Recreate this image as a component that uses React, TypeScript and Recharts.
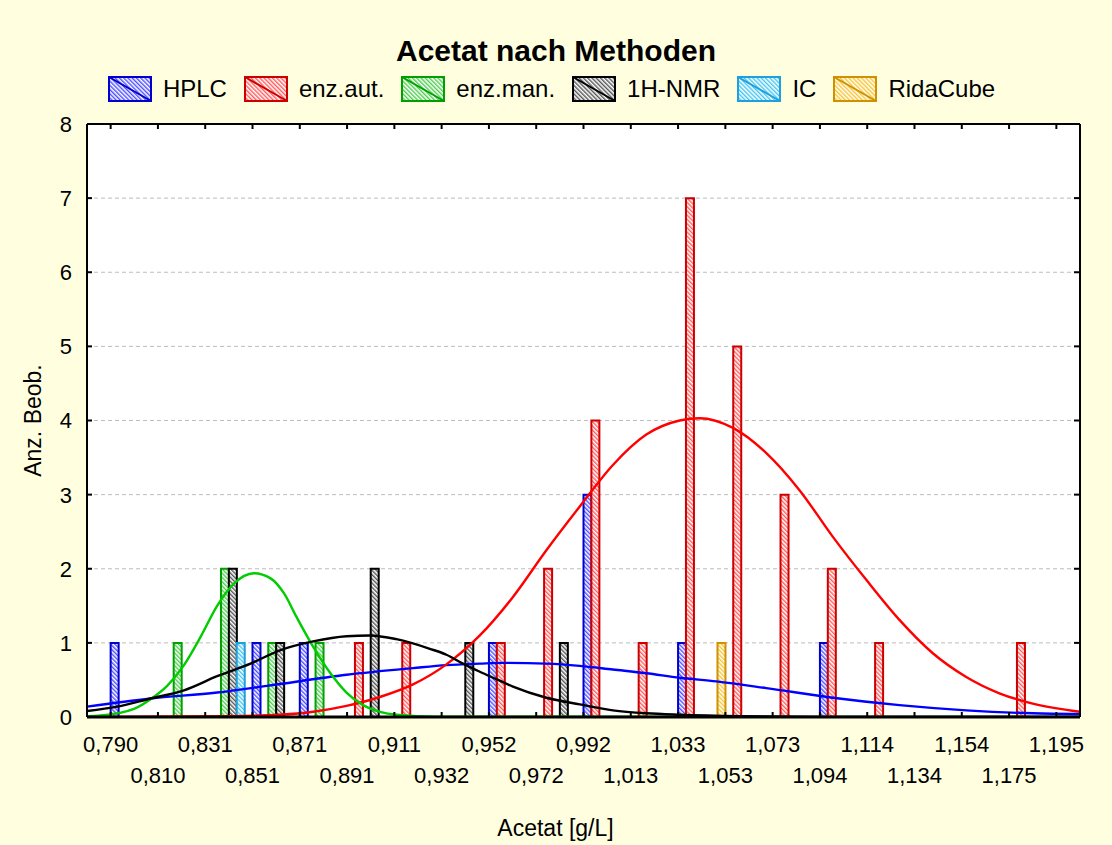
import React from 'react';
import { ComposedChart, Bar, Line, XAxis, YAxis, CartesianGrid, Label } from 'recharts';

// lower edges of the histogram classes (g/L); every one gets a tick
const binEdges = [
  0.79, 0.81025, 0.8305, 0.85075, 0.871, 0.89125, 0.9115, 0.93175, 0.952, 0.97225, 0.9925,
  1.01275, 1.033, 1.05325, 1.0735, 1.09375, 1.114, 1.13425, 1.1545, 1.17475, 1.195,
];
const tickLabels = [
  '0,790', '0,810', '0,831', '0,851', '0,871', '0,891', '0,911', '0,932', '0,952', '0,972', '0,992',
  '1,013', '1,033', '1,053', '1,073', '1,094', '1,114', '1,134', '1,154', '1,175', '1,195',
];
const yTicks = [0, 1, 2, 3, 4, 5, 6, 7, 8];

// observations per class (classes 0..19)
const hplc = [1, 0, 0, 1, 1, 0, 0, 0, 1, 0, 3, 0, 1, 0, 0, 1, 0, 0, 0, 0];
const enzAut = [0, 0, 0, 0, 0, 1, 1, 0, 1, 2, 4, 1, 7, 5, 3, 2, 1, 0, 0, 1];
const enzMan = [0, 1, 2, 1, 1, 0, 0, 0, 0, 0, 0, 0, 0, 0, 0, 0, 0, 0, 0, 0];
const nmr = [0, 0, 2, 1, 0, 2, 0, 1, 0, 1, 0, 0, 0, 0, 0, 0, 0, 0, 0, 0];
const ic = [0, 0, 1, 0, 0, 0, 0, 0, 0, 0, 0, 0, 0, 0, 0, 0, 0, 0, 0, 0];
const ridaCube = [0, 0, 0, 0, 0, 0, 0, 0, 0, 0, 0, 0, 1, 0, 0, 0, 0, 0, 0, 0];

// fitted normal curves
const curveHplc = [
  { v: 0.7799, n: 0.14 }, { v: 0.8071, n: 0.25 }, { v: 0.8356, n: 0.33 }, { v: 0.857, n: 0.42 },
  { v: 0.891, n: 0.57 }, { v: 0.9195, n: 0.66 }, { v: 0.9338, n: 0.7 }, { v: 0.9481, n: 0.72 },
  { v: 0.958, n: 0.73 }, { v: 0.9766, n: 0.72 }, { v: 0.9909, n: 0.69 }, { v: 1.0051, n: 0.64 },
  { v: 1.0194, n: 0.59 }, { v: 1.0337, n: 0.53 }, { v: 1.0494, n: 0.48 }, { v: 1.0708, n: 0.39 },
  { v: 1.0993, n: 0.26 }, { v: 1.1278, n: 0.16 }, { v: 1.1564, n: 0.09 }, { v: 1.1849, n: 0.05 },
  { v: 1.2051, n: 0.04 },
];
const curveEnzAut = [
  { v: 0.7799, n: 0 }, { v: 0.84, n: 0.01 }, { v: 0.8625, n: 0.03 }, { v: 0.8767, n: 0.07 },
  { v: 0.891, n: 0.15 }, { v: 0.9053, n: 0.27 }, { v: 0.9195, n: 0.44 }, { v: 0.9338, n: 0.71 },
  { v: 0.9481, n: 1.1 }, { v: 0.9623, n: 1.62 }, { v: 0.9766, n: 2.25 }, { v: 0.9909, n: 2.84 },
  { v: 1.0051, n: 3.4 }, { v: 1.0194, n: 3.81 }, { v: 1.0337, n: 4.0 }, { v: 1.0422, n: 4.03 },
  { v: 1.0565, n: 3.9 }, { v: 1.0708, n: 3.56 }, { v: 1.085, n: 3.06 }, { v: 1.0993, n: 2.43 },
  { v: 1.1136, n: 1.85 }, { v: 1.1278, n: 1.31 }, { v: 1.1421, n: 0.86 }, { v: 1.1564, n: 0.54 },
  { v: 1.1706, n: 0.32 }, { v: 1.1849, n: 0.18 }, { v: 1.2051, n: 0.07 },
];
const curveEnzMan = [
  { v: 0.7799, n: 0.01 }, { v: 0.7857, n: 0.02 }, { v: 0.8, n: 0.11 }, { v: 0.8071, n: 0.24 },
  { v: 0.8142, n: 0.42 }, { v: 0.8214, n: 0.7 }, { v: 0.8285, n: 1.08 }, { v: 0.8356, n: 1.5 },
  { v: 0.8428, n: 1.8 }, { v: 0.8513, n: 1.94 }, { v: 0.8585, n: 1.87 }, { v: 0.8642, n: 1.67 },
  { v: 0.8696, n: 1.35 }, { v: 0.8767, n: 0.95 }, { v: 0.8839, n: 0.6 }, { v: 0.891, n: 0.33 },
  { v: 0.8981, n: 0.16 }, { v: 0.9053, n: 0.07 }, { v: 0.9124, n: 0.03 }, { v: 0.93, n: 0.005 },
  { v: 1.2051, n: 0 },
];
const curveNmr = [
  { v: 0.7799, n: 0.08 }, { v: 0.7928, n: 0.14 }, { v: 0.8071, n: 0.25 }, { v: 0.8214, n: 0.36 },
  { v: 0.8356, n: 0.55 }, { v: 0.8499, n: 0.72 }, { v: 0.8625, n: 0.9 }, { v: 0.8767, n: 1.02 },
  { v: 0.891, n: 1.09 }, { v: 0.901, n: 1.1 }, { v: 0.9124, n: 1.05 }, { v: 0.9267, n: 0.92 },
  { v: 0.9338, n: 0.84 }, { v: 0.9409, n: 0.72 }, { v: 0.9481, n: 0.61 }, { v: 0.9552, n: 0.51 },
  { v: 0.9623, n: 0.41 }, { v: 0.9766, n: 0.26 }, { v: 0.9909, n: 0.17 }, { v: 1.0051, n: 0.09 },
  { v: 1.0194, n: 0.05 }, { v: 1.0337, n: 0.03 }, { v: 1.06, n: 0.01 }, { v: 1.1, n: 0 },
  { v: 1.2051, n: 0 },
];

const series = [
  { key: 'hplc', name: 'HPLC', counts: hplc, curve: curveHplc, edge: '#0000cc', hatch: '#3a3aff', line: '#0000ff' },
  { key: 'enzAut', name: 'enz.aut.', counts: enzAut, curve: curveEnzAut, edge: '#cc0000', hatch: '#ff4a4a', line: '#ff0000' },
  { key: 'enzMan', name: 'enz.man.', counts: enzMan, curve: curveEnzMan, edge: '#00a000', hatch: '#3cc83c', line: '#00cc00' },
  { key: 'nmr', name: '1H-NMR', counts: nmr, curve: curveNmr, edge: '#000000', hatch: '#444444', line: '#000000' },
  { key: 'ic', name: 'IC', counts: ic, curve: null, edge: '#1ea0dc', hatch: '#30c0f0', line: '' },
  { key: 'ridaCube', name: 'RidaCube', counts: ridaCube, curve: null, edge: '#d09000', hatch: '#f5c020', line: '' },
];

// each class is split in one slot per method; a few empty slots pad both ends
const leadSlots = 3;
const tailSlots = 3;
const classWidth = binEdges[1] - binEdges[0];
const slotWidth = classWidth / series.length;
const valueDomain = [
  binEdges[0] - leadSlots * slotWidth,
  binEdges[binEdges.length - 1] + tailSlots * slotWidth,
];

const slotData = (() => {
  const rows: Record<string, number>[] = [];
  const used = hplc.length * series.length;
  for (let i = 0; i < leadSlots + used + tailSlots; i++) {
    const row: Record<string, number> = { slot: i };
    series.forEach((s) => { row[s.key] = 0; });
    const j = i - leadSlots;
    if (j >= 0 && j < used) {
      const s = series[j % series.length];
      row[s.key] = s.counts[Math.floor(j / series.length)];
    }
    rows.push(row);
  }
  return rows;
})();

// the top frame axis needs something plotted on it, so the class edges go there unseen
const edgeMarks = binEdges.map((v) => ({ v, n: 0 }));

const font = '"Liberation Sans", Arial, Helvetica, sans-serif';

const BottomTick = (props: any) => {
  const { x, y, index } = props;
  return (
    <g>
      <line x1={x} x2={x} y1={y} y2={y - 5} stroke="#000" strokeWidth={2} />
      <text x={x} y={y + (index % 2 ? 66 : 35)} textAnchor="middle" fontSize={22} fill="#000">
        {tickLabels[index]}
      </text>
    </g>
  );
};

const TopTick = (props: any) => (
  <line x1={props.x} x2={props.x} y1={props.y} y2={props.y + 5} stroke="#000" strokeWidth={2} />
);

const LeftTick = (props: any) => {
  const { x, y, payload } = props;
  return (
    <g>
      <line x1={x} x2={x + 5} y1={y} y2={y} stroke="#000" strokeWidth={2} />
      <text x={x - 15} y={y} dy="0.36em" textAnchor="end" fontSize={22} fill="#000">
        {payload.value}
      </text>
    </g>
  );
};

const RightTick = (props: any) => (
  <line x1={props.x} x2={props.x - 6} y1={props.y} y2={props.y} stroke="#000" strokeWidth={2} />
);

const Patterns = () => (
  <svg width={0} height={0} style={{ position: 'absolute' }}>
    <defs>
      {series.map((s) => (
        <pattern
          key={s.key}
          id={`hatch-${s.key}`}
          width={3}
          height={3}
          patternUnits="userSpaceOnUse"
          patternTransform="rotate(-45)"
        >
          <rect width={3} height={3} fill="#ffffff" />
          <line x1={0.75} x2={0.75} y1={0} y2={3} stroke={s.hatch} strokeWidth={1.3} />
        </pattern>
      ))}
    </defs>
  </svg>
);

const LegendRow = () => (
  <div
    style={{
      position: 'absolute',
      top: 76,
      left: 0,
      width: 1120,
      display: 'flex',
      justifyContent: 'center',
      alignItems: 'center',
      height: 26,
    }}
  >
    {series.map((s) => (
      <div key={s.key} style={{ display: 'flex', alignItems: 'center', marginRight: 17 }}>
        <svg width={44} height={26}>
          <rect x={1} y={1} width={42} height={24} fill={`url(#hatch-${s.key})`} stroke={s.edge} strokeWidth={2} />
          <line x1={1} y1={1} x2={43} y2={25} stroke={s.edge} strokeWidth={2} />
        </svg>
        <span style={{ fontSize: 24, marginLeft: 11, color: '#000', lineHeight: '26px' }}>{s.name}</span>
      </div>
    ))}
  </div>
);

export default function App() {
  return (
    <div
      style={{
        position: 'absolute',
        left: 0,
        top: 0,
        width: 1112,
        height: 845,
        background: '#ffffe0',
        fontFamily: font,
        overflow: 'hidden',
      }}
    >
      <Patterns />
      <div
        style={{
          position: 'absolute',
          top: 36,
          left: 0,
          width: 1112,
          textAlign: 'center',
          fontSize: 30,
          fontWeight: 'bold',
          lineHeight: '30px',
        }}
      >
        Acetat nach Methoden
      </div>
      <LegendRow />
      <ComposedChart
        width={1112}
        height={845}
        data={slotData}
        margin={{ top: 123, right: 31, bottom: 0, left: 0 }}
        barCategoryGap={0}
        barGap={0}
      >
        <CartesianGrid
          xAxisId="val"
          yAxisId="left"
          vertical={false}
          strokeDasharray="4 3"
          stroke="#bdbdbd"
          fill="#ffffff"
        />
        <XAxis
          xAxisId="val"
          dataKey="v"
          type="number"
          domain={valueDomain}
          allowDataOverflow
          ticks={binEdges}
          interval={0}
          height={128}
          tickSize={0}
          tickMargin={0}
          tickLine={false}
          axisLine={{ stroke: '#000', strokeWidth: 3 }}
          tick={BottomTick}
        >
          <Label
            value="Acetat [g/L]"
            position="insideBottom"
            offset={9}
            dx={-28}
            style={{ fontSize: 23, fill: '#000' }}
          />
        </XAxis>
        <XAxis xAxisId="slot" dataKey="slot" type="category" height={0} hide />
        <XAxis
          xAxisId="top"
          orientation="top"
          dataKey="v"
          type="number"
          domain={valueDomain}
          allowDataOverflow
          ticks={binEdges}
          interval={0}
          height={1}
          tickSize={0}
          tickMargin={0}
          tickLine={false}
          axisLine={{ stroke: '#000', strokeWidth: 2 }}
          tick={TopTick}
        />
        <YAxis
          yAxisId="left"
          type="number"
          domain={[0, 8]}
          allowDataOverflow
          ticks={yTicks}
          interval={0}
          width={87}
          tickSize={0}
          tickMargin={0}
          tickLine={false}
          axisLine={{ stroke: '#000', strokeWidth: 2 }}
          tick={LeftTick}
        >
          <Label
            value="Anz. Beob."
            angle={-90}
            position="insideLeft"
            offset={33}
            style={{ textAnchor: 'middle', fontSize: 23, fill: '#000' }}
          />
        </YAxis>
        <YAxis
          yAxisId="right"
          orientation="right"
          type="number"
          domain={[0, 8]}
          allowDataOverflow
          ticks={yTicks}
          interval={0}
          width={1}
          tickSize={0}
          tickMargin={0}
          tickLine={false}
          axisLine={{ stroke: '#000', strokeWidth: 2 }}
          tick={RightTick}
        />
        {series.map((s) => (
          <Bar
            key={s.key}
            dataKey={s.key}
            name={s.name}
            xAxisId="slot"
            yAxisId="left"
            stackId="hist"
            fill={`url(#hatch-${s.key})`}
            stroke={s.edge}
            strokeWidth={2}
            isAnimationActive={false}
          />
        ))}
        <Line
          data={edgeMarks}
          dataKey="n"
          xAxisId="top"
          yAxisId="right"
          stroke="none"
          dot={false}
          activeDot={false}
          legendType="none"
          isAnimationActive={false}
        />
        {series
          .filter((s) => s.curve)
          .map((s) => (
            <Line
              key={`${s.key}-fit`}
              data={s.curve as { v: number; n: number }[]}
              dataKey="n"
              xAxisId="val"
              yAxisId="left"
              type="monotone"
              dot={false}
              activeDot={false}
              stroke={s.line}
              strokeWidth={2.4}
              legendType="none"
              isAnimationActive={false}
            />
          ))}
      </ComposedChart>
    </div>
  );
}
